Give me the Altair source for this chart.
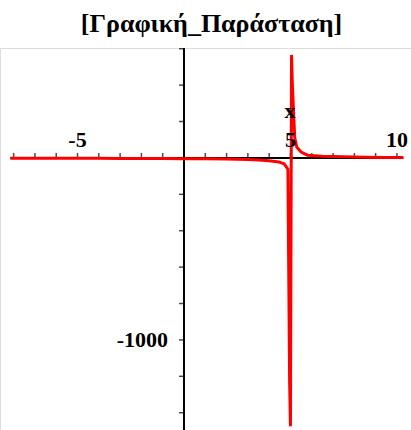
import altair as alt
import pandas as pd

# Title and axis text
title_text = "[Γραφική_Παράσταση]"
var_label = "x"

# Plotted curve: a rational function with a vertical asymptote just right of x = 5
curve_x = [-8.15, -7.0, -6.0, -5.0, -4.0, -3.0, -2.0, -1.0, 0.0, 1.0, 2.0, 3.0,
           3.5, 4.0, 4.45, 4.7, 4.88, 4.96, 5.0, 5.05, 5.09,
           5.2, 5.3, 5.5, 5.8, 6.5, 7.5, 8.5, 9.5, 10.3]
curve_y = [-1.5, -1.7, -2.0, -2.2, -2.4, -2.8, -3.0, -3.4, -4.0, -5.0, -6.0, -9.0,
           -12.0, -16.0, -22.0, -32.0, -62.0, -1230.0, -1475.0, 566.0, 400.0,
           110.0, 58.0, 32.0, 15.0, 9.0, 6.0, 4.0, 3.0, 2.5]

# Tick positions and labels
x_ticks = [-8, -7, -6, -5, -4, -3, -2, -1, 1, 2, 3, 4, 5, 6, 7, 8, 9, 10]
y_ticks = [600, 400, 200, -200, -400, -600, -800, -1000, -1200, -1400]
x_label_vals = [-5, 5, 10]
x_label_text = ["-5", "5", "10"]
y_label_vals = [-1000]
y_label_text = ["-1000"]

# Visible ranges
x_domain = [-8.64, 10.66]
y_domain = [-1495, 604]
x_axis_span = [-8.15, 10.3]

xs = alt.Scale(domain=x_domain, nice=False, zero=False)
ys = alt.Scale(domain=y_domain, nice=False, zero=False)

curve_df = pd.DataFrame({"x": curve_x, "y": curve_y, "i": list(range(len(curve_x)))})
yaxis_df = pd.DataFrame({"x": [0], "y": [y_domain[0]], "y2": [y_domain[1]]})
xaxis_df = pd.DataFrame({"x": [x_axis_span[0]], "x2": [x_axis_span[1]], "y": [0]})
xt_df = pd.DataFrame({"x": x_ticks, "y": [0] * len(x_ticks)})
yt_df = pd.DataFrame({"y": y_ticks, "x": [0] * len(y_ticks)})
xl_df = pd.DataFrame({"x": x_label_vals, "y": [0] * len(x_label_vals), "t": x_label_text})
yl_df = pd.DataFrame({"y": y_label_vals, "x": [0] * len(y_label_vals), "t": y_label_text})
var_df = pd.DataFrame({"x": [4.98], "y": [258], "t": [var_label]})

serif = "Liberation Serif"

yaxis = alt.Chart(yaxis_df).mark_rule(color="black", strokeWidth=2).encode(
    x=alt.X("x:Q", scale=xs, axis=None),
    y=alt.Y("y:Q", scale=ys, axis=None),
    y2="y2:Q",
)
xaxis = alt.Chart(xaxis_df).mark_rule(color="black", strokeWidth=2).encode(
    x=alt.X("x:Q", scale=xs, axis=None),
    x2="x2:Q",
    y=alt.Y("y:Q", scale=ys, axis=None),
)
xtick = alt.Chart(xt_df).mark_tick(color="black", size=5, thickness=1.5, yOffset=-2.5).encode(
    x=alt.X("x:Q", scale=xs, axis=None),
    y=alt.Y("y:Q", scale=ys, axis=None),
)
ytick = alt.Chart(yt_df).mark_tick(color="black", size=5, thickness=1.5, xOffset=-2.5,
                                   orient="horizontal").encode(
    x=alt.X("x:Q", scale=xs, axis=None),
    y=alt.Y("y:Q", scale=ys, axis=None),
)
curve = alt.Chart(curve_df).mark_line(color="#ff0000", strokeWidth=3, clip=True).encode(
    x=alt.X("x:Q", scale=xs, axis=None),
    y=alt.Y("y:Q", scale=ys, axis=None),
    order="i:Q",
)
xlab = alt.Chart(xl_df).mark_text(font=serif, fontSize=22, fontWeight="bold", color="black",
                                  baseline="middle", align="center", dy=-18).encode(
    x=alt.X("x:Q", scale=xs, axis=None),
    y=alt.Y("y:Q", scale=ys, axis=None),
    text="t:N",
)
ylab = alt.Chart(yl_df).mark_text(font=serif, fontSize=22, fontWeight="bold", color="black",
                                  baseline="middle", align="right", dx=-16).encode(
    x=alt.X("x:Q", scale=xs, axis=None),
    y=alt.Y("y:Q", scale=ys, axis=None),
    text="t:N",
)
varlab = alt.Chart(var_df).mark_text(font=serif, fontSize=22, fontWeight="bold", color="black",
                                     baseline="middle", align="center").encode(
    x=alt.X("x:Q", scale=xs, axis=None),
    y=alt.Y("y:Q", scale=ys, axis=None),
    text="t:N",
)

chart = alt.layer(yaxis, xaxis, xtick, ytick, curve, xlab, ylab, varlab).properties(
    width=411,
    height=382,
    title=alt.TitleParams(title_text, font=serif, fontSize=26, fontWeight="bold",
                          anchor="middle", dx=6, offset=10, color="black"),
    autosize=alt.AutoSizeParams(type="none"),
    padding={"left": 0, "top": 48, "right": 0, "bottom": 0},
).configure_view(stroke=None).configure(background="white")

chart.save("out.html", embed_options={"renderer": "svg", "actions": False})
